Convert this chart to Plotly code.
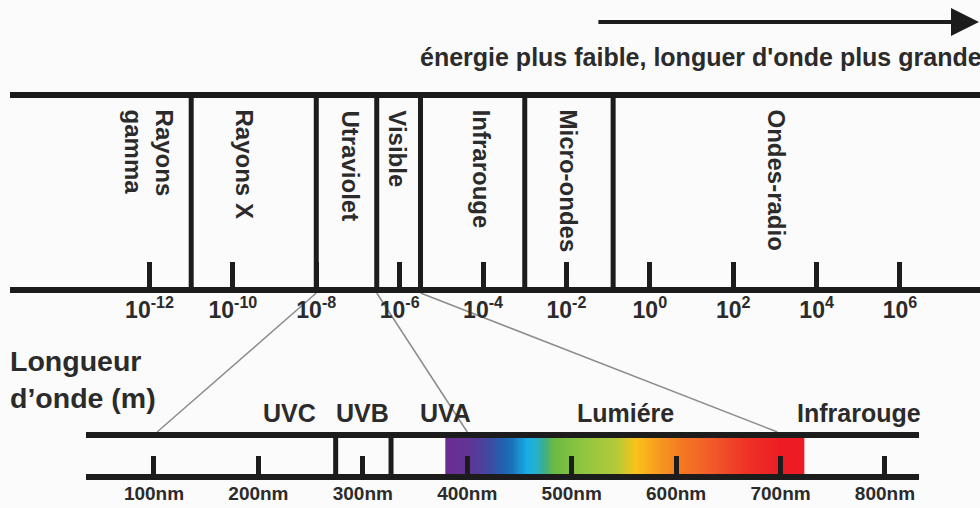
import numpy as np
import plotly.graph_objects as go

# ---------------- data ----------------
# upper scale: wavelength as powers of ten (metres)
top_exponents = [-12, -10, -8, -6, -4, -2, 0, 2, 4, 6]
top_tick_labels = ["10<sup>-12</sup>", "10<sup>-10</sup>", "10<sup>-8</sup>", "10<sup>-6</sup>",
                   "10<sup>-4</sup>", "10<sup>-2</sup>", "10<sup>0</sup>", "10<sup>2</sup>",
                   "10<sup>4</sup>", "10<sup>6</sup>"]
band_names = ["Rayons<br>gamma", "Rayons X", "Utraviolet", "Visible", "Infrarouge",
              "Micro-ondes", "Ondes-radio"]
band_bounds_exp = [-11.0, -8.0, -6.55, -5.5, -3.0, -0.88]

# lower scale: nanometres
nm_ticks = [100, 200, 300, 400, 500, 600, 700, 800]
nm_tick_labels = ["100nm", "200nm", "300nm", "400nm", "500nm", "600nm", "700nm", "800nm"]
uv_bounds_nm = [274, 327]
sub_names = ["UVC", "UVB", "UVA", "Lumiére", "Infrarouge"]

# visible spectrum colour ramp (nm -> colour)
spectrum_nm = [379, 403, 422, 434, 444, 457, 467, 474, 482, 508, 543, 562, 582, 607, 635, 668, 700, 723]
spectrum_colors = ["#6b2d90", "#5f3596", "#3f4aa2", "#2262b0", "#1a75bc", "#19aee6", "#27b0c8",
                   "#3fae8a", "#6ab945", "#8cc540", "#b3ca3a", "#fbc21a", "#f79c20", "#f47622",
                   "#f15a2a", "#ee3226", "#ed1c24", "#ed1c24"]

# connectors: (upper exponent, lower nm)
zoom_links = [(-8.0, 103), (-6.55, 400), (-5.5, 697)]

# ---------------- layout constants ----------------
W, H = 980, 508
LINE = "#1c1c1c"
TXT = "#2b2b2b"
BG = "#fbfbfb"
FONT = "Liberation Sans, Arial, sans-serif"

TOP_DOM = [10 / W, 1.0]
TOP_RANGE = [-15.346, 7.919]
BOT_DOM = [86 / W, 919 / W]
BOT_RANGE = [34.9, 832.6]

Y_TOP_LINE, Y_TOP_AXIS = 95, 290
Y_BOT_LINE, Y_BOT_AXIS = 435, 477


def top_to_paper(e):
    f = (e - TOP_RANGE[0]) / (TOP_RANGE[1] - TOP_RANGE[0])
    return TOP_DOM[0] + f * (TOP_DOM[1] - TOP_DOM[0])


def bot_to_paper(nm):
    f = (nm - BOT_RANGE[0]) / (BOT_RANGE[1] - BOT_RANGE[0])
    return BOT_DOM[0] + f * (BOT_DOM[1] - BOT_DOM[0])


fig = go.Figure()

# spectrum gradient (heatmap on lower axis)
edges = np.arange(spectrum_nm[0], spectrum_nm[-1] + 0.5, 1.0)
mids = (edges[:-1] + edges[1:]) / 2
lo, hi = spectrum_nm[0], spectrum_nm[-1]
cscale = [[(v - lo) / (hi - lo), c] for v, c in zip(spectrum_nm, spectrum_colors)]
fig.add_trace(go.Heatmap(x=edges, y=[Y_BOT_LINE, Y_BOT_AXIS], z=[mids], colorscale=cscale,
                         zmin=lo, zmax=hi, showscale=False, hoverinfo="skip",
                         xaxis="x2", yaxis="y"))

# band boundaries (upper)
bx, by = [], []
for b in band_bounds_exp:
    bx += [b, b, None]
    by += [Y_TOP_LINE, Y_TOP_AXIS, None]
fig.add_trace(go.Scatter(x=bx, y=by, mode="lines", line=dict(color=LINE, width=5),
                         hoverinfo="skip", showlegend=False, xaxis="x", yaxis="y"))
# top line of upper band
fig.add_trace(go.Scatter(x=TOP_RANGE, y=[Y_TOP_LINE, Y_TOP_LINE], mode="lines",
                         line=dict(color=LINE, width=6), hoverinfo="skip", showlegend=False,
                         xaxis="x", yaxis="y"))

# UV boundaries (lower)
ux, uy = [], []
for b in uv_bounds_nm:
    ux += [b, b, None]
    uy += [Y_BOT_LINE, Y_BOT_AXIS, None]
fig.add_trace(go.Scatter(x=ux, y=uy, mode="lines", line=dict(color=LINE, width=5),
                         hoverinfo="skip", showlegend=False, xaxis="x2", yaxis="y"))
fig.add_trace(go.Scatter(x=BOT_RANGE, y=[Y_BOT_LINE, Y_BOT_LINE], mode="lines",
                         line=dict(color=LINE, width=6), hoverinfo="skip", showlegend=False,
                         xaxis="x2", yaxis="y"))

shapes = []
for e, nm in zoom_links:
    shapes.append(dict(type="line", xref="paper", yref="y",
                       x0=top_to_paper(e), y0=Y_TOP_AXIS + 3,
                       x1=bot_to_paper(nm), y1=Y_BOT_LINE - 3,
                       line=dict(color="#8c8c8c", width=1.5), layer="below"))

ann = []
band_label_x = [-11.99, -9.71, -7.19, -6.06, -4.03, -1.94, 3.05]
for name, xe in zip(band_names, band_label_x):
    ann.append(dict(x=xe, y=108, xref="x", yref="y", text=name, showarrow=False,
                    textangle=90, xanchor="center", yanchor="top", align="left",
                    font=dict(family=FONT, size=24, color=TXT, weight="bold")))
sub_label_x = [230, 300, 379, 552, 775]
for name, xn in zip(sub_names, sub_label_x):
    ann.append(dict(x=xn, y=413, xref="x2", yref="y", text=name, showarrow=False,
                    xanchor="center", yanchor="middle",
                    font=dict(family=FONT, size=25, color=TXT, weight="bold")))

ann.append(dict(x=418 / W, y=57, xref="paper", yref="y", xanchor="left", yanchor="middle",
                text="énergie plus faible, longuer d'onde plus grande", showarrow=False,
                font=dict(family=FONT, size=25, color=TXT, weight="bold")))
ann.append(dict(x=8 / W, y=379, xref="paper", yref="y", xanchor="left", yanchor="middle",
                text="Longueur<br>d’onde (m)", showarrow=False, align="left",
                font=dict(family=FONT, size=28.5, color=TXT, weight="bold")))
# arrow
ann.append(dict(x=1.006, y=22, xref="paper", yref="y", ax=-389, ay=0, text="",
                showarrow=True, arrowhead=2, arrowsize=1.4, arrowwidth=4, arrowcolor=LINE))

fig.update_layout(
    width=W, height=H, margin=dict(l=0, r=0, t=0, b=0),
    paper_bgcolor=BG, plot_bgcolor="rgba(0,0,0,0)", showlegend=False,
    shapes=shapes, annotations=ann,
    xaxis=dict(domain=TOP_DOM, range=TOP_RANGE, anchor="free", position=1 - Y_TOP_AXIS / H,
               side="bottom", showgrid=False, zeroline=False, showline=True, linewidth=6,
               linecolor=LINE, ticks="inside", ticklen=25, tickwidth=5, tickcolor=LINE,
               tickvals=top_exponents, ticktext=top_tick_labels, ticklabelstandoff=-3,
               tickfont=dict(family=FONT, size=23, color=TXT, weight="bold"), fixedrange=True),
    xaxis2=dict(domain=BOT_DOM, range=BOT_RANGE, anchor="free", position=1 - Y_BOT_AXIS / H,
                side="bottom", showgrid=False, zeroline=False, showline=True, linewidth=6,
                linecolor=LINE, ticks="inside", ticklen=18, tickwidth=5, tickcolor=LINE,
                tickvals=nm_ticks, ticktext=nm_tick_labels, ticklabelstandoff=-3,
                tickfont=dict(family=FONT, size=19, color=TXT, weight="bold"), fixedrange=True),
    yaxis=dict(domain=[0, 1], range=[H, 0], visible=False, anchor="x", fixedrange=True),
)

fig.write_html("out.html", config={"displayModeBar": False, "staticPlot": True},
               post_script="document.body.style.margin='0';document.body.style.padding='0';")
